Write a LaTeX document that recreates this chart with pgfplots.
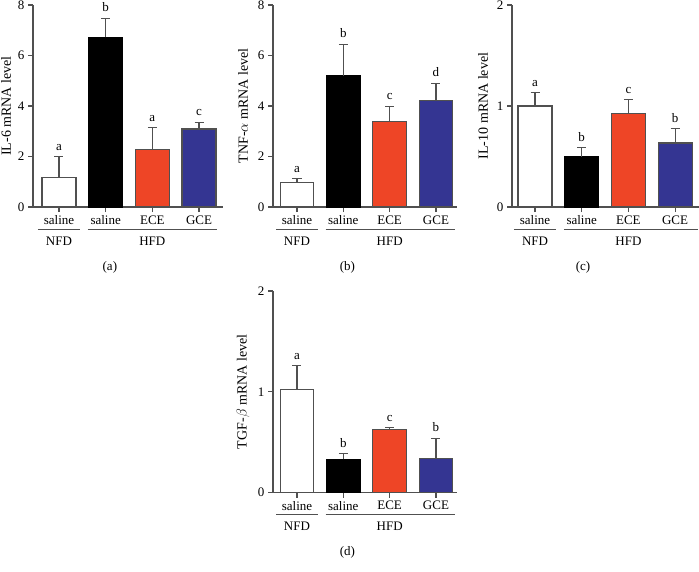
\documentclass[border=0pt]{standalone}
\usepackage{fontspec}
\setmainfont{Liberation Serif}
\usepackage{pgfplots}
\pgfplotsset{compat=1.18}
\definecolor{myred}{HTML}{EE4526}
\definecolor{myblue}{HTML}{343592}
\definecolor{linegray}{HTML}{505050}
\newcommand{\fs}{\fontsize{13bp}{15bp}\selectfont}
\pgfplotsset{
  panel/.style={
    scale only axis, anchor=south west, clip=false,
    axis x line*=bottom, axis y line*=left,
    axis line style={-, linegray, line width=1.1bp},
    tick style={linegray, line width=1.1bp},
    tick align=outside, major tick length=5bp,
    xtick={1,2,3,4},
    xticklabels={saline,saline,ECE,GCE},
    ymin=0,
    font=\fs,
    /pgf/number format/assume math mode=true,
    ticklabel style={font=\fs},
    xticklabel style={yshift=0bp},
    every axis y label/.style={rotate=90, anchor=center},
    ylabel style={font=\fontsize{14bp}{16bp}\selectfont},
  },
  mybar/.style={ybar, bar width=0.73, bar shift=0pt, draw=linegray, line width=1.1bp,
    error bars/y dir=plus, error bars/y explicit,
    error bars/error bar style={linegray, line width=1.1bp},
    error bars/error mark options={rotate=90, mark size=4.5bp, linegray, line width=1.1bp}},
  letters/.style={only marks, mark=none, nodes near coords, point meta=explicit symbolic,
    nodes near coords style={anchor=south, inner sep=0pt, yshift=6bp, font=\fs}},
}
\newcommand{\groups}[1]{%
  \draw[linegray, line width=1bp] ([yshift=-22bp]axis cs:0.55,0) -- ([yshift=-22bp]axis cs:1.45,0);
  \draw[linegray, line width=1bp] ([yshift=-22bp]axis cs:1.62,0) -- ([yshift=-22bp]axis cs:#1,0);
  \node[font=\fs] at ([yshift=-34bp]axis cs:1,0) {NFD};
  \node[font=\fs] at ([yshift=-34bp]axis cs:3,0) {HFD};
}
\begin{document}
\begin{tikzpicture}
\useasboundingbox (0,0) rectangle (699bp,-572bp);
% (a)
\begin{axis}[panel, at={(33bp,-207bp)}, width=190bp, height=202bp,
  xmin=0.443, xmax=4.514, ymax=8, ytick={0,2,4,6,8},
  ylabel={IL-6 mRNA level}, ylabel style={at={(axis description cs:-0.142,0.5)}}]
\addplot[mybar, fill=white] coordinates {(1,1.16) +- (0,0.84)};
\addplot[mybar, fill=black, draw=black] coordinates {(2,6.72) +- (0,0.76)};
\addplot[mybar, fill=myred] coordinates {(3,2.29) +- (0,0.85)};
\addplot[mybar, fill=myblue] coordinates {(4,3.09) +- (0,0.27)};
\addplot[letters] coordinates {(1,2.0)[a] (2,7.48)[b] (3,3.14)[a] (4,3.36)[c]};
\groups{4.38}
\node[font=\fs] at ([yshift=-60bp]axis cs:2.09,0) {(a)};
\end{axis}
% (b)
\begin{axis}[panel, at={(273bp,-207bp)}, width=184bp, height=202bp,
  xmin=0.482, xmax=4.454, ymax=8, ytick={0,2,4,6,8},
  ylabel={TNF-$\alpha$ mRNA level}, ylabel style={at={(axis description cs:-0.163,0.5)}}]
\addplot[mybar, fill=white] coordinates {(1,0.98) +- (0,0.15)};
\addplot[mybar, fill=black, draw=black] coordinates {(2,5.2) +- (0,1.25)};
\addplot[mybar, fill=myred] coordinates {(3,3.39) +- (0,0.6)};
\addplot[mybar, fill=myblue] coordinates {(4,4.23) +- (0,0.67)};
\addplot[letters] coordinates {(1,1.13)[a] (2,6.45)[b] (3,3.99)[c] (4,4.9)[d]};
\groups{4.41}
\node[font=\fs] at ([yshift=-60bp]axis cs:2.09,0) {(b)};
\end{axis}
% (c)
\begin{axis}[panel, at={(512bp,-207bp)}, width=187bp, height=202bp,
  xmin=0.5075, xmax=4.512, ymax=2, ytick={0,1,2},
  ylabel={IL-10 mRNA level}, ylabel style={at={(axis description cs:-0.155,0.5)}}]
\addplot[mybar, fill=white] coordinates {(1,1.0) +- (0,0.13)};
\addplot[mybar, fill=black, draw=black] coordinates {(2,0.5) +- (0,0.09)};
\addplot[mybar, fill=myred] coordinates {(3,0.925) +- (0,0.141)};
\addplot[mybar, fill=myblue] coordinates {(4,0.634) +- (0,0.142)};
\addplot[letters] coordinates {(1,1.13)[a] (2,0.59)[b] (3,1.066)[c] (4,0.776)[b]};
\groups{4.5}
\node[font=\fs] at ([yshift=-60bp]axis cs:2.03,0) {(c)};
\end{axis}
% (d)
\begin{axis}[panel, at={(273bp,-492.7bp)}, width=184bp, height=201.7bp,
  xmin=0.482, xmax=4.454, ymax=2, ytick={0,1,2},
  ylabel={TGF-$\beta$ mRNA level}, ylabel style={at={(axis description cs:-0.163,0.5)}}]
\addplot[mybar, fill=white] coordinates {(1,1.02) +- (0,0.24)};
\addplot[mybar, fill=black, draw=black] coordinates {(2,0.33) +- (0,0.057)};
\addplot[mybar, fill=myred] coordinates {(3,0.625) +- (0,0.023)};
\addplot[mybar, fill=myblue] coordinates {(4,0.337) +- (0,0.2)};
\addplot[letters] coordinates {(1,1.26)[a] (2,0.387)[b] (3,0.648)[c] (4,0.54)[b]};
\groups{4.41}
\node[font=\fs] at ([yshift=-60bp]axis cs:2.09,0) {(d)};
\end{axis}
\end{tikzpicture}
\end{document}
